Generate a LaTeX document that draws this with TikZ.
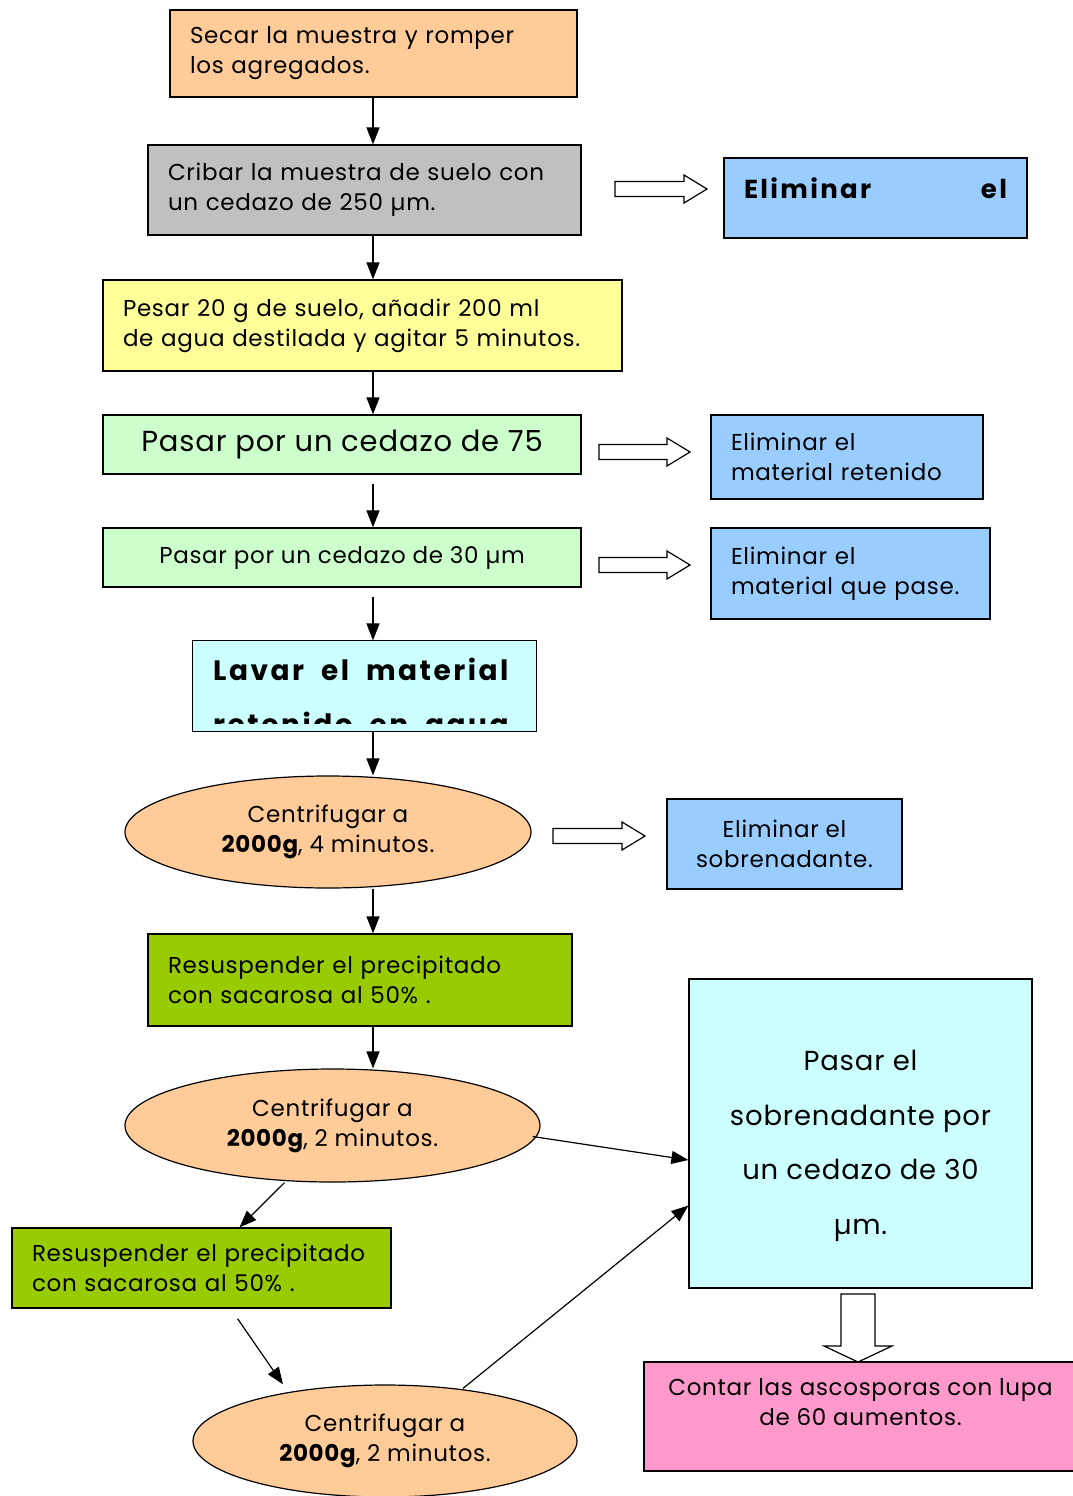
\documentclass[tikz,border=0pt]{standalone}
\usepackage{fontspec}
\setmainfont{Poppins}[LetterSpace=3]
\newfontfamily\spacedfont{Poppins}[LetterSpace=9]
\usetikzlibrary{arrows.meta,shapes.geometric,calc}
\definecolor{corange}{HTML}{FFCC99}
\definecolor{cgray}{HTML}{C0C0C0}
\definecolor{cyellow}{HTML}{FFFF99}
\definecolor{clgreen}{HTML}{CCFFCC}
\definecolor{cblue}{HTML}{99CCFF}
\definecolor{ccyan}{HTML}{CCFFFF}
\definecolor{cgreen}{HTML}{99CC00}
\definecolor{cpink}{HTML}{FF99CC}
\tikzset{
  base/.style={draw=black, line width=1.2pt, inner sep=0pt, font=\fontsize{23}{30}\selectfont},
  box/.style={base, rectangle},
  oval/.style={base, ellipse, fill=corange, align=center},
  arr/.style={-{Triangle[length=17pt,width=13pt]}, line width=1.2pt},
  hollow/.style={draw=black, fill=white, line width=1.2pt},
  bigtext/.style={font=\fontsize{27.5}{54.5}\selectfont},
}
\newcommand{\harrow}[3]{% x1, x2, y
  \draw[hollow] (#1,#3-7.5) -- (#2-23,#3-7.5) -- (#2-23,#3-14) -- (#2,#3) -- (#2-23,#3+14) -- (#2-23,#3+7.5) -- (#1,#3+7.5) -- cycle;}
\begin{document}
\begin{tikzpicture}[x=1pt,y=-1pt]
\useasboundingbox (0,0) rectangle (1073,1496);
\coordinate (sp) at (373,0);
\node[box, fill=corange, minimum width=407, minimum height=87, text width=367, align=left] (n1) at (373.5,53.5) {Secar la muestra y romper\\los agregados.};
\node[box, fill=cgray, minimum width=433, minimum height=90, text width=393, align=left] (n2) at (364.5,190) {Cribar la muestra de suelo con\\un cedazo de 250 µm.};
\node[box, fill=cblue, minimum width=303, minimum height=80, text width=263, text height=20pt, text depth=20pt, font=\fontsize{26}{30}\spacedfont\bfseries] (e1) at (875.5,198) {Eliminar\hfill el};
\node[box, fill=cyellow, minimum width=519, minimum height=91, text width=479, align=left] (n3) at (362.5,325.5) {Pesar 20 g de suelo, añadir 200 ml\\de agua destilada y agitar 5 minutos.};
\node[box, fill=clgreen, minimum width=478, minimum height=59, align=center, font=\fontsize{29}{30}\selectfont] (n4) at (342,444.5) {Pasar por un cedazo de 75};
\node[box, fill=cblue, minimum width=272, minimum height=84, text width=232, align=left] (r4) at (847,457) {Eliminar el\\material retenido};
\node[box, fill=clgreen, minimum width=478, minimum height=59, align=center] (n5) at (342,557.5) {Pasar por un cedazo de 30 µm};
\node[box, fill=cblue, minimum width=279, minimum height=91, text width=239, align=left] (r5) at (850.5,573.5) {Eliminar el\\material que pase.};
\node[box, draw=none, fill=ccyan, minimum width=343, minimum height=90] (n6) at (364.5,686) {};
\begin{scope}
  \clip (194,642) rectangle (535,723);
  \node[anchor=base west, inner sep=0pt, font=\fontsize{28}{30}\spacedfont\bfseries] (n6a) at (213,680) {Lavar\ \ el\ \ material};
  \node[anchor=base west, inner sep=0pt, font=\fontsize{28}{30}\spacedfont\bfseries] (n6b) at (213,734) {retenido\ \ en\ \ agua};
\end{scope}
\draw[line width=1.2pt] (n6.south west) rectangle (n6.north east);
\node[oval, minimum width=406, minimum height=112] (c1) at (328,832) {Centrifugar a\\\textbf{2000g}, 4 minutos.};
\node[box, fill=cblue, minimum width=235, minimum height=90, align=center] (r6) at (784.5,844) {Eliminar el\\sobrenadante.};
\node[box, fill=cgreen, minimum width=424, minimum height=92, text width=384, align=left] (n7) at (360,980) {Resuspender el precipitado\\con sacarosa al 50\% .};
\node[oval, minimum width=415, minimum height=113] (c2) at (332.5,1125.5) {Centrifugar a\\\textbf{2000g}, 2 minutos.};
\node[box, fill=ccyan, minimum width=343, minimum height=309] (big) at (860.5,1133.5) {};
\node[align=center, inner sep=0pt, bigtext] (bigt) at (860.5,1146) {Pasar el\\sobrenadante por\\un cedazo de 30\\µm.};
\node[box, fill=cgreen, minimum width=379, minimum height=80, text width=339, align=left] (n8) at (201.5,1268) {Resuspender el precipitado\\con sacarosa al 50\% .};
\node[oval, minimum width=384, minimum height=112] (c3) at (385,1441) {Centrifugar a\\\textbf{2000g}, 2 minutos.};
\node[box, fill=cpink, minimum width=433, minimum height=109, align=center] (pk) at (860.5,1416.5) {Contar las ascosporas con lupa\\de 60 aumentos.\\\mbox{}};
% connectors
\draw[arr] (n1.south -| sp) -- (n2.north -| sp);
\draw[arr] (n2.south -| sp) -- (n3.north -| sp);
\draw[arr] (n3.south -| sp) -- (n4.north -| sp);
\draw[arr] ([yshift=-9pt]n4.south -| sp) -- (n5.north -| sp);
\draw[arr] ([yshift=-9pt]n5.south -| sp) -- (n6.north -| sp);
\draw[arr] (n6.south -| sp) -- (c1.north -| sp);
\draw[arr] (c1.south -| sp) -- (n7.north -| sp);
\draw[arr] (n7.south -| sp) -- (c2.north -| sp);
\draw[arr] ([xshift=-8pt,yshift=-11pt]c2.east) -- ([yshift=-26.5pt]big.west);
\draw[arr] ([xshift=-48pt]c2.south) -- ([xshift=38pt]n8.north);
\draw[arr] ([xshift=36pt,yshift=-10pt]n8.south) -- ([xshift=-102pt]c3.north);
\draw[arr] ([xshift=78pt,yshift=-4pt]c3.north) -- ([yshift=-72pt]big.west);
% hollow arrows
\harrow{615}{707}{189}
\harrow{599}{690}{452}
\harrow{599}{690}{565}
\harrow{553}{645}{836}
\draw[hollow] (841,1294) -- (875,1294) -- (875,1346) -- (892,1346) -- (858,1362) -- (824,1346) -- (841,1346) -- cycle;
\end{tikzpicture}
\end{document}
